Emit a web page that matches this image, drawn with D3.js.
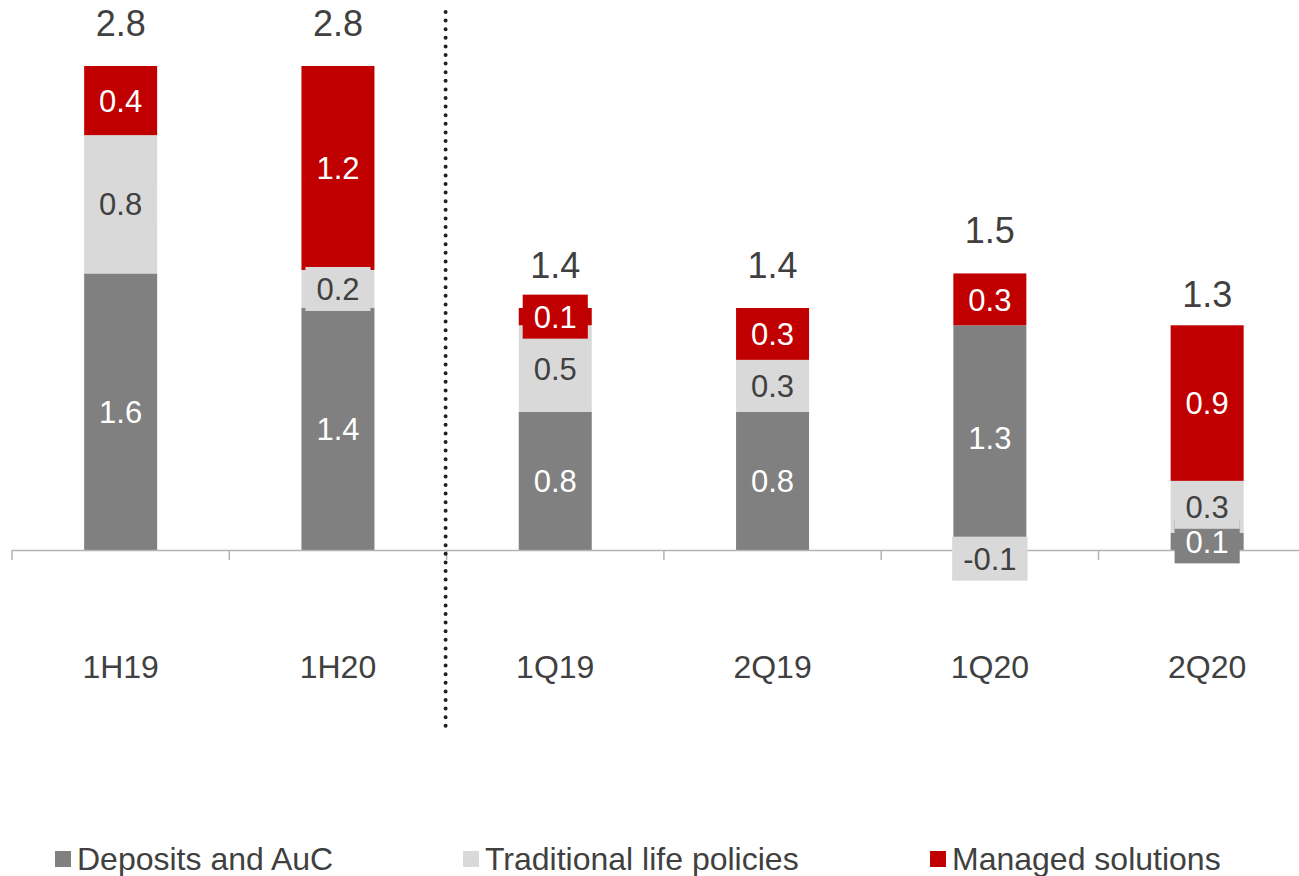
<!DOCTYPE html>
<html>
<head>
<meta charset="utf-8">
<script src="https://cdn.jsdelivr.net/npm/d3@7"></script>
<style>
  body { margin: 0; background: #fff; }
  svg { display: block; font-family: Arial, "Liberation Sans", sans-serif; }
</style>
</head>
<body>
<div id="chart"></div>
<script>
// Chart data
const categories = ["1H19", "1H20", "1Q19", "2Q19", "1Q20", "2Q20"];
const deposits = [1.6, 1.4, 0.8, 0.8, 1.3, 0.1];
const traditional = [0.8, 0.22, 0.5, 0.3, -0.1, 0.3];
const managed = [0.4, 1.18, 0.1, 0.3, 0.3, 0.9];
const totals = [2.8, 2.8, 1.4, 1.4, 1.5, 1.3];
const seriesNames = ["Deposits and AuC", "Traditional life policies", "Managed solutions"];

const width = 1299, height = 876;
const colors = ["#808080", "#d9d9d9", "#c00000"];
const textColors = ["#ffffff", "#404040", "#ffffff"];

// plain hyphen for negatives, like the original
const fmt = d3.formatLocale({decimal: ".", thousands: ",", grouping: [3], currency: ["", ""], minus: "-"}).format(".1f");

const svg = d3.select("#chart").append("svg")
    .attr("width", width)
    .attr("height", height);

// x: one band per category, axis starts at 12 and runs off the right edge
const x = d3.scaleBand()
    .domain(categories)
    .range([12, 12 + 6 * 217.3])
    .paddingInner(0)
    .paddingOuter(0);
const barW = 73;

const pxPerUnit = (550 - 66) / 2.8;
const y = d3.scaleLinear()
    .domain([-0.5, 2.8])
    .range([550 + 0.5 * pxPerUnit, 66]);

const table = categories.map((c, i) => ({
    cat: c, dep: deposits[i], trad: traditional[i], man: managed[i]
}));
const keys = ["dep", "trad", "man"];
const stacked = d3.stack()
    .keys(keys)
    .offset(d3.stackOffsetDiverging)(table);

// bars
const barGroup = svg.append("g");
stacked.forEach((s, si) => {
    barGroup.selectAll(null)
        .data(s)
        .join("rect")
        .attr("x", d => x(d.data.cat) + x.bandwidth() / 2 - barW / 2)
        .attr("y", d => y(d[1]))
        .attr("width", barW)
        .attr("height", d => y(d[0]) - y(d[1]))
        .attr("fill", colors[si]);
});

// axis line with band ticks
const axisG = svg.append("g");
axisG.append("line")
    .attr("x1", x.range()[0]).attr("x2", x.range()[1])
    .attr("y1", y(0) + 0.5).attr("y2", y(0) + 0.5)
    .attr("stroke", "#b3b3b3").attr("stroke-width", 1.5);
axisG.selectAll("line.tick")
    .data(d3.range(categories.length + 1))
    .join("line")
    .attr("class", "tick")
    .attr("x1", i => x.range()[0] + i * x.step())
    .attr("x2", i => x.range()[0] + i * x.step())
    .attr("y1", y(0))
    .attr("y2", y(0) + 10)
    .attr("stroke", "#b3b3b3").attr("stroke-width", 1.5);

// segment labels with a background box in the segment colour
const labelGroup = svg.append("g");
stacked.forEach((s, si) => {
    s.forEach(d => {
        const cx = x(d.data.cat) + x.bandwidth() / 2;
        const cy = (y(d[0]) + y(d[1])) / 2;
        const g = labelGroup.append("g");
        const rect = g.append("rect").attr("fill", colors[si]);
        const t = g.append("text")
            .attr("x", cx)
            .attr("y", cy)
            .attr("dy", "0.36em")
            .attr("text-anchor", "middle")
            .attr("font-size", 31)
            .attr("fill", textColors[si])
            .text(fmt(d.data[keys[si]]));
        const tw = t.node().getComputedTextLength();
        rect.attr("x", cx - tw / 2 - 11)
            .attr("y", cy - 22)
            .attr("width", tw + 22)
            .attr("height", 44);
    });
});

// totals above bars
const totalShift = {"2Q20": 12};
svg.append("g").selectAll("text")
    .data(stacked[2])
    .join("text")
    .attr("x", d => x(d.data.cat) + x.bandwidth() / 2)
    .attr("y", (d, i) => y(d[1]) - 30 + (totalShift[d.data.cat] || 0))
    .attr("text-anchor", "middle")
    .attr("font-size", 36)
    .attr("fill", "#404040")
    .text((d, i) => fmt(totals[i]));

// category labels
svg.append("g").selectAll("text")
    .data(categories)
    .join("text")
    .attr("x", d => x(d) + x.bandwidth() / 2)
    .attr("y", 678)
    .attr("text-anchor", "middle")
    .attr("font-size", 32)
    .attr("fill", "#404040")
    .text(d => d);

// dotted separator between halves and quarters
const sepX = x.range()[0] + 2 * x.step() - 1;
svg.append("line")
    .attr("x1", sepX).attr("x2", sepX)
    .attr("y1", 12).attr("y2", 728)
    .attr("stroke", "#222")
    .attr("stroke-width", 4)
    .attr("stroke-linecap", "round")
    .attr("stroke-dasharray", "0 8.6");

// legend
const legendX = [55, 463, 930];
const legend = svg.append("g");
seriesNames.forEach((name, i) => {
    legend.append("rect")
        .attr("x", legendX[i]).attr("y", 851)
        .attr("width", 16).attr("height", 16)
        .attr("fill", colors[i]);
    legend.append("text")
        .attr("x", legendX[i] + 22)
        .attr("y", 870)
        .attr("font-size", 32)
        .attr("fill", "#404040")
        .text(name);
});
</script>
</body>
</html>
